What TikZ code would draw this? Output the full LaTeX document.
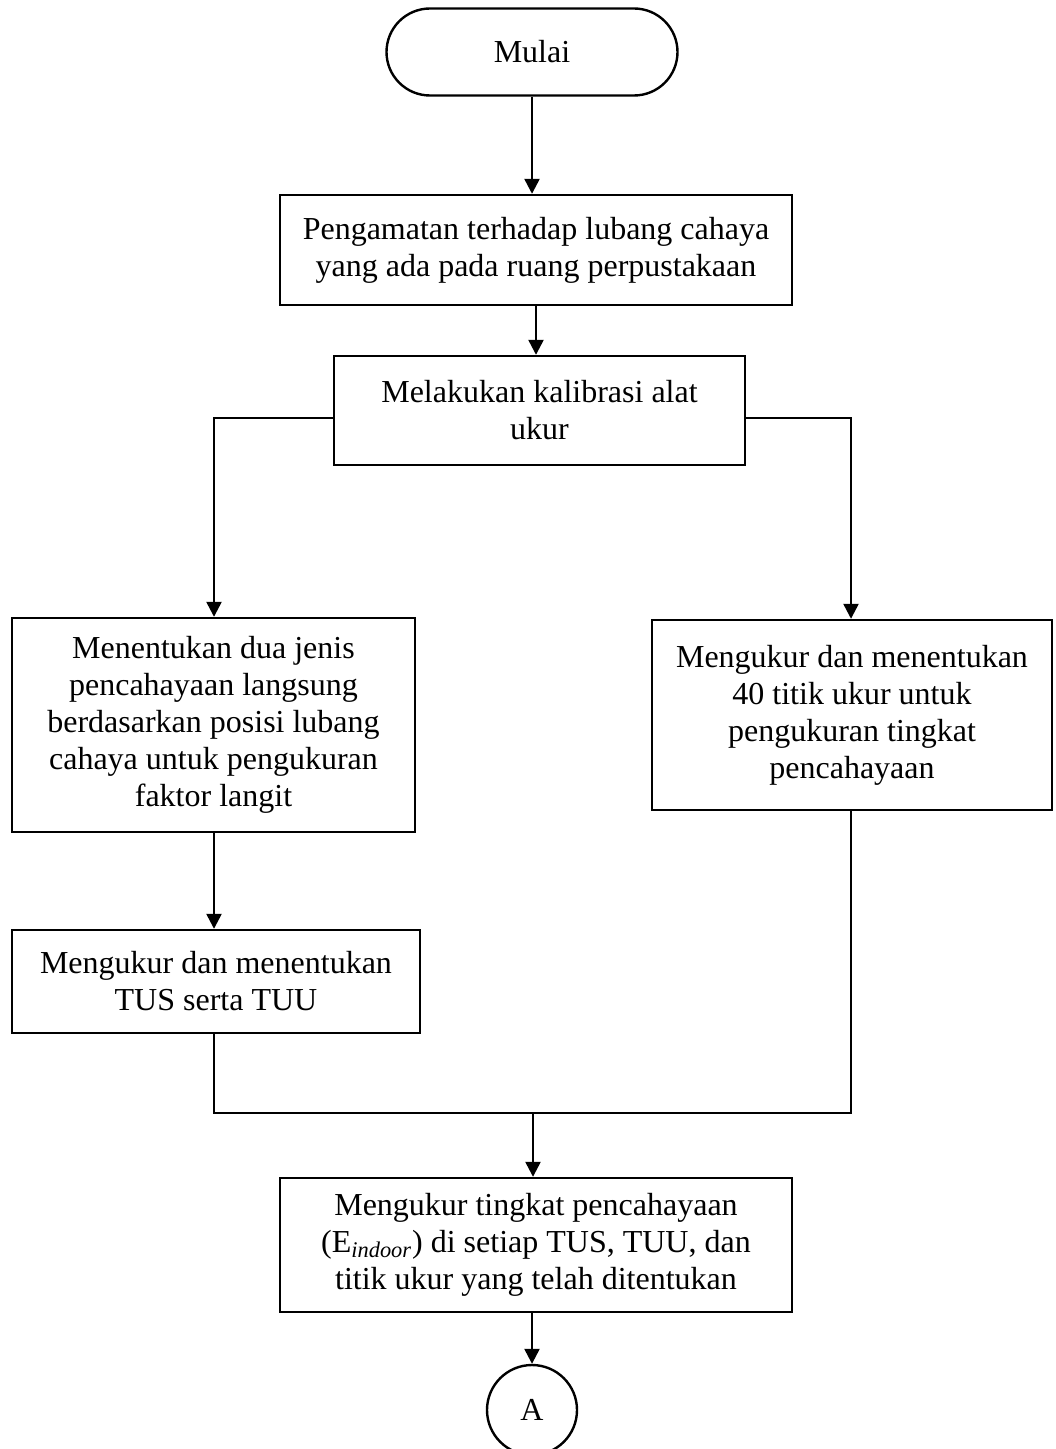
\documentclass[tikz,border=0pt]{standalone}
\usepackage{fontspec}
\setmainfont{Liberation Serif}
\usetikzlibrary{arrows.meta,shapes.misc}

\begin{document}
\begin{tikzpicture}[x=0.5pt,y=-0.5pt,
        proses/.style={draw,line width=1.2pt,align=center,inner sep=0pt},
        panah/.style={-{Triangle[width=7.5pt,length=7.5pt]},line width=1.2pt},
        garis/.style={line width=0.6pt},
        every node/.style={font=\fontsize{16}{18.5}\selectfont}]
        % Fix the page size
        \useasboundingbox (0,0) rectangle (1055,1449);
        % Draw the start node
        \node[proses,rounded rectangle,minimum width=145.5pt,minimum height=43.5pt] (mulai) at (532,52) {Mulai};
        % Draw the process boxes
        \node[proses,minimum width=256pt,minimum height=55pt] (amati) at (536,250)
            {Pengamatan terhadap lubang cahaya\\yang ada pada ruang perpustakaan};
        \node[proses,minimum width=205.5pt,minimum height=54.5pt] (kalibrasi) at (539.5,410.5)
            {Melakukan kalibrasi alat\\ukur};
        \node[proses,minimum width=201.5pt,minimum height=107pt] (jenis) at (213.5,725)
            {Menentukan dua jenis\\pencahayaan langsung\\berdasarkan posisi lubang\\cahaya untuk pengukuran\\faktor langit};
        \node[proses,minimum width=200pt,minimum height=95pt] (titik) at (852,715)
            {Mengukur dan menentukan\\40 titik ukur untuk\\pengukuran tingkat\\pencahayaan};
        \node[proses,minimum width=204pt,minimum height=51.5pt] (tus) at (216,981.5)
            {Mengukur dan menentukan\\TUS serta TUU};
        \node[proses,minimum width=256pt,minimum height=67pt] (ukur) at (536,1245)
            {Mengukur tingkat pencahayaan\\(E\textsubscript{\textit{indoor}}) di setiap TUS, TUU, dan\\titik ukur yang telah ditentukan};
        % Draw the off-page connector
        \node[proses,circle,minimum size=45pt] (a) at (532,1410) {A};
        % Define the branch points
        \coordinate (kiri) at (214,418);
        \coordinate (kanan) at (851,418);
        \coordinate (gabung) at (533,1113);
        % Draw the arrows
        \draw[panah] (mulai.south) -- (mulai.south |- amati.north);
        \draw[panah] (amati.south) -- (amati.south |- kalibrasi.north);
        \draw[panah] (kalibrasi.west |- kiri) -- (kiri) -- (kiri |- jenis.north);
        \draw[panah] (kalibrasi.east |- kanan) -- (kanan) -- (kanan |- titik.north);
        \draw[panah] (kiri |- jenis.south) -- (kiri |- tus.north);
        % Join the two branches
        \draw[garis] (kiri |- tus.south) |- (kanan |- gabung) -- (kanan |- titik.south);
        \draw[panah] (gabung) -- (gabung |- ukur.north);
        \draw[panah] (a.north |- ukur.south) -- (a.north);
    \end{tikzpicture}
\end{document}
